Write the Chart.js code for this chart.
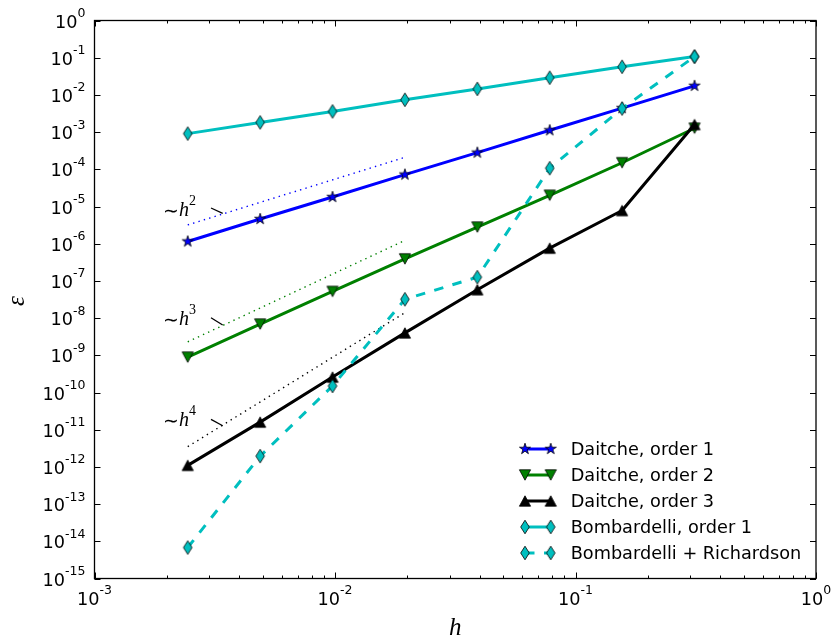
<!DOCTYPE html>
<html>
<head>
<meta charset="utf-8">
<script src="https://cdn.jsdelivr.net/npm/chart.js@4.4.0/dist/chart.umd.min.js"></script>
<style>
  html, body { margin: 0; padding: 0; background: #fff; }
</style>
</head>
<body>
<canvas id="main" width="833" height="643"></canvas>
<script>
// step sizes h (halved each time)
const hValues = [0.00244140625, 0.0048828125, 0.009765625, 0.01953125, 0.0390625, 0.078125, 0.15625, 0.3125];

// errors
const daitche1 = [1.15e-6, 4.6e-6, 1.8e-5, 7.2e-5, 2.8e-4, 1.12e-3, 4.4e-3, 1.75e-2];
const daitche2 = [8.9e-10, 6.9e-9, 5.2e-8, 3.9e-7, 2.8e-6, 2.0e-5, 1.5e-4, 1.27e-3];
const daitche3 = [1.1e-12, 1.6e-11, 2.6e-10, 4.0e-9, 5.8e-8, 7.6e-7, 7.8e-6, 1.6e-3];
const bombardelli1 = [9.1e-4, 1.82e-3, 3.6e-3, 7.4e-3, 1.45e-2, 2.9e-2, 5.7e-2, 1.07e-1];
const bombRichardson = [6.8e-15, 1.95e-12, 1.5e-10, 3.2e-8, 1.26e-7, 1.07e-4, 4.3e-3, 1.07e-1];

// reference slope lines (only drawn between these two h)
const refH = [0.00244140625, 0.01953125];
const refSlope2 = [3.2e-6, 2.1e-4];
const refSlope3 = [2.3e-9, 1.23e-6];
const refSlope4 = [3.5e-12, 1.4e-8];

const seriesLabels = ['Daitche, order 1', 'Daitche, order 2', 'Daitche, order 3', 'Bombardelli, order 1', 'Bombardelli + Richardson'];

const xTicks = [1e-3, 1e-2, 1e-1, 1];
const xTickLabels = ['10^-3', '10^-2', '10^-1', '10^0'];
const yTicks = [1, 1e-1, 1e-2, 1e-3, 1e-4, 1e-5, 1e-6, 1e-7, 1e-8, 1e-9, 1e-10, 1e-11, 1e-12, 1e-13, 1e-14, 1e-15];
const yTickLabels = ['10^0', '10^-1', '10^-2', '10^-3', '10^-4', '10^-5', '10^-6', '10^-7', '10^-8',
                     '10^-9', '10^-10', '10^-11', '10^-12', '10^-13', '10^-14', '10^-15'];

const BLUE = '#0000ff', GREEN = '#008000', BLACK = '#000000', CYAN = '#00bfbf';

function pts(xs, ys) { return xs.map((x, i) => ({ x: x, y: ys[i] })); }

// matplotlib-like filled markers as little canvases
function markerCanvas(w, h, path, fill) {
    var c = document.createElement('canvas');
    c.width = w; c.height = h;
    var g = c.getContext('2d');
    g.beginPath();
    path(g, w / 2, h / 2);
    g.closePath();
    g.fillStyle = fill;
    g.fill();
    g.lineWidth = 0.8;
    g.strokeStyle = '#000';
    g.lineJoin = 'miter';
    g.stroke();
    return c;
}
const starMk = markerCanvas(14, 14, function (g, cx, cy) {
    var R = 5.8, r = R * 0.382;
    for (var i = 0; i < 10; i++) {
        var a = -Math.PI / 2 + i * Math.PI / 5, rr = (i % 2) ? r : R;
        g.lineTo(cx + rr * Math.cos(a), cy + rr * Math.sin(a));
    }
}, BLUE);
const triDownMk = markerCanvas(14, 14, function (g, cx, cy) {
    g.moveTo(cx - 5.6, cy - 5.2); g.lineTo(cx + 5.6, cy - 5.2); g.lineTo(cx, cy + 5.2);
}, GREEN);
const triUpMk = markerCanvas(14, 14, function (g, cx, cy) {
    g.moveTo(cx - 5.6, cy + 5.2); g.lineTo(cx + 5.6, cy + 5.2); g.lineTo(cx, cy - 5.2);
}, BLACK);
const diamondMk = markerCanvas(12, 16, function (g, cx, cy) {
    g.moveTo(cx, cy - 6.8); g.lineTo(cx + 4.3, cy); g.lineTo(cx, cy + 6.8); g.lineTo(cx - 4.3, cy);
}, CYAN);

function drawPow(ctx, label, x, baseY, expDy, align) {
    var parts = label.split('^');
    ctx.font = '17.7px "DejaVu Sans"';
    var wb = ctx.measureText(parts[0]).width;
    ctx.font = '12.5px "DejaVu Sans"';
    var we = ctx.measureText(parts[1]).width;
    var x0 = align === 'center' ? x - (wb + we) / 2 : x - (wb + we);
    ctx.textAlign = 'left';
    ctx.textBaseline = 'alphabetic';
    ctx.font = '17.7px "DejaVu Sans"';
    ctx.fillText(parts[0], x0, baseY);
    ctx.font = '12.5px "DejaVu Sans"';
    ctx.fillText(parts[1], x0 + wb, baseY - expDy);
}

const decorPlugin = {
    id: 'decor',
    afterDraw: function (chart, args, opts) {
        var ctx = chart.ctx, a = chart.chartArea;
        var xs = chart.scales.x, ys = chart.scales.y;
        ctx.save();
        ctx.fillStyle = '#000';
        ctx.strokeStyle = '#000';

        // frame
        ctx.lineWidth = 1.3;
        ctx.strokeRect(a.left, a.top, a.right - a.left, a.bottom - a.top);

        // x ticks, inward, top and bottom
        ctx.lineWidth = 1;
        for (var d = -3; d <= 0; d++) {
            for (var m = 1; m <= 9; m++) {
                if (d === 0 && m > 1) break;
                var px = Math.round(xs.getPixelForValue(m * Math.pow(10, d))) + 0.5;
                var len = m === 1 ? 6 : 3;
                ctx.beginPath();
                ctx.moveTo(px, a.bottom); ctx.lineTo(px, a.bottom - len);
                ctx.moveTo(px, a.top); ctx.lineTo(px, a.top + len);
                ctx.stroke();
            }
        }
        // y ticks, inward, left and right
        yTicks.forEach(function (v) {
            var py = Math.round(ys.getPixelForValue(v)) + 0.5;
            ctx.beginPath();
            ctx.moveTo(a.left, py); ctx.lineTo(a.left + 6, py);
            ctx.moveTo(a.right, py); ctx.lineTo(a.right - 6, py);
            ctx.stroke();
        });

        // tick labels
        xTicks.forEach(function (v, i) {
            drawPow(ctx, xTickLabels[i], xs.getPixelForValue(v), a.bottom + 26.5, 11, 'center');
        });
        yTicks.forEach(function (v, i) {
            drawPow(ctx, yTickLabels[i], a.left - 9, ys.getPixelForValue(v) + 7, 10.5, 'right');
        });

        // axis titles
        ctx.textAlign = 'center';
        ctx.textBaseline = 'alphabetic';
        ctx.font = 'italic 25px "Liberation Serif"';
        ctx.fillText('h', (a.left + a.right) / 2, 635);
        ctx.save();
        ctx.translate(18.5, (a.top + a.bottom) / 2 + 1.5);
        ctx.rotate(-Math.PI / 2);
        ctx.font = 'italic 25px "Liberation Serif"';
        ctx.fillText('\u03b5', 0, 5.5);
        ctx.restore();

        // slope annotations
        opts.notes.forEach(function (n) {
            var tx = xs.getPixelForValue(n.x), ty = ys.getPixelForValue(n.y);
            ctx.textAlign = 'left';
            ctx.font = '19px "DejaVu Sans"';
            ctx.fillText('\u223c', tx, ty + 1);
            var w1 = ctx.measureText('\u223c').width;
            ctx.font = 'italic 20px "Liberation Serif"';
            ctx.fillText('h', tx + w1, ty);
            var w2 = ctx.measureText('h').width;
            ctx.font = '14px "Liberation Serif"';
            ctx.fillText(n.p, tx + w1 + w2, ty - 11);
            ctx.lineWidth = 1.3;
            ctx.beginPath();
            ctx.moveTo(xs.getPixelForValue(n.x1), ys.getPixelForValue(n.y1));
            ctx.lineTo(xs.getPixelForValue(n.x2), ys.getPixelForValue(n.y2));
            ctx.stroke();
        });

        // legend: line sample with a marker at each end
        var lx0 = a.left + 430.5, lx1 = lx0 + 25.7, ly = a.bottom - 129.5;
        ctx.font = '17.7px "DejaVu Sans"';
        ctx.textBaseline = 'middle';
        seriesLabels.forEach(function (lab, i) {
            var ds = chart.data.datasets[i];
            var y = ly + i * 26;
            ctx.save();
            ctx.strokeStyle = ds.borderColor;
            ctx.lineWidth = ds.borderWidth;
            ctx.setLineDash(ds.borderDash || []);
            ctx.beginPath();
            ctx.moveTo(lx0, y); ctx.lineTo(lx1, y);
            ctx.stroke();
            ctx.restore();
            var mk = ds.pointStyle;
            ctx.drawImage(mk, lx0 - mk.width / 2, y - mk.height / 2);
            ctx.drawImage(mk, lx1 - mk.width / 2, y - mk.height / 2);
            ctx.fillStyle = '#000';
            ctx.textAlign = 'left';
            ctx.fillText(lab, lx0 + 45.7, y + 1);
        });
        ctx.restore();
    }
};

function series(data, color, marker, order, dash) {
    return {
        data: data,
        borderColor: color,
        backgroundColor: color,
        borderWidth: 3,
        borderDash: dash,
        borderJoinStyle: 'round',
        pointStyle: marker,
        pointRadius: 6,
        tension: 0,
        order: order
    };
}
function refLine(data, color) {
    return {
        data: data,
        borderColor: color,
        borderWidth: 1.4,
        borderDash: [1.4, 4.2],
        pointRadius: 0,
        tension: 0,
        order: 10
    };
}

window.onload = function () {
    var main = document.getElementById('main').getContext('2d');
    var myChart = new Chart(main, {
        type: 'line',
        data: {
            datasets: [
                series(pts(hValues, daitche1), BLUE, starMk, 4),
                series(pts(hValues, daitche2), GREEN, triDownMk, 3),
                series(pts(hValues, daitche3), BLACK, triUpMk, 2),
                series(pts(hValues, bombardelli1), CYAN, diamondMk, 1),
                series(pts(hValues, bombRichardson), CYAN, diamondMk, 0, [9.5, 9.5]),
                refLine(pts(refH, refSlope2), BLUE),
                refLine(pts(refH, refSlope3), GREEN),
                refLine(pts(refH, refSlope4), BLACK)
            ]
        },
        options: {
            responsive: false,
            devicePixelRatio: 1,
            animation: false,
            layout: { padding: { top: 20.5, right: 17, left: 0, bottom: 0 } },
            plugins: {
                legend: { display: false },
                tooltip: { enabled: false },
                decor: {
                    notes: [
                        { p: '2', x: 0.001927, y: 5.55e-6, x1: 0.003051, y1: 9.1e-6, x2: 0.003412, y2: 6.56e-6 },
                        { p: '3', x: 0.001927, y: 6.53e-9, x1: 0.003051, y1: 1.02e-8, x2: 0.003412, y2: 6.53e-9 },
                        { p: '4', x: 0.001927, y: 1.26e-11, x1: 0.003051, y1: 1.9e-11, x2: 0.003412, y2: 1.28e-11 }
                    ]
                }
            },
            scales: {
                x: {
                    type: 'logarithmic',
                    min: 1e-3,
                    max: 1,
                    ticks: { display: false },
                    grid: { display: false },
                    border: { display: false },
                    afterBuildTicks: function (s) { s.ticks = xTicks.map(function (v) { return { value: v }; }); },
                    afterFit: function (s) { s.height = 64.5; }
                },
                y: {
                    type: 'logarithmic',
                    min: 1e-15,
                    max: 1,
                    ticks: { display: false },
                    grid: { display: false },
                    border: { display: false },
                    afterBuildTicks: function (s) { s.ticks = yTicks.map(function (v) { return { value: v }; }); },
                    afterFit: function (s) { s.width = 94.5; }
                }
            }
        },
        plugins: [decorPlugin]
    });
};
</script>
</body>
</html>
